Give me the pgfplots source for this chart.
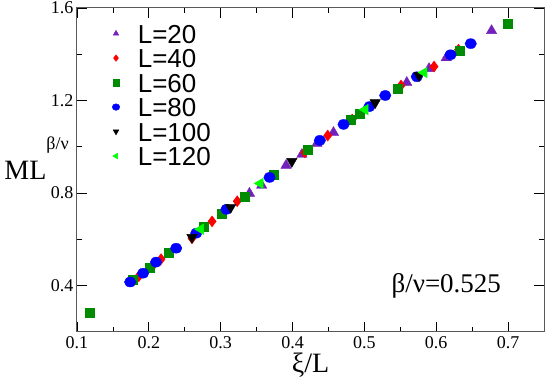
\documentclass[border=0pt]{standalone}
\usepackage{fontspec}
\setmainfont{Liberation Serif}
\newfontfamily\arial{Liberation Sans}
\usepackage{pgfplots}
\pgfplotsset{compat=1.18}
\definecolor{gindigo}{RGB}{114,33,188}
\definecolor{ggreenfour}{RGB}{0,139,0}
\definecolor{ggreen}{RGB}{0,255,0}
\begin{document}
\begin{tikzpicture}
\begin{axis}[
  scale only axis, width=467pt, height=324pt,
  xmin=0.1, xmax=0.75, ymin=0.2, ymax=1.6,
  xtick={0.1,0.2,0.3,0.4,0.5,0.6,0.7},
  ytick={0.4,0.8,1.2,1.6},
  xticklabel={\fontsize{18}{18}\selectfont\pgfmathprintnumber[fixed,fixed zerofill,precision=1,assume math mode=true]{\tick}},
  yticklabel={\fontsize{18}{18}\selectfont\pgfmathprintnumber[fixed,fixed zerofill,precision=1,assume math mode=true]{\tick}},
  minor x tick num=1, minor y tick num=1,
  tick align=inside, major tick length=10pt, minor tick length=5pt,
  axis line style={line width=1pt, black!65},
  every tick/.style={black, line width=0.8pt},
  xticklabel style={yshift=-1pt},
  xlabel={ξ/L},
  every axis x label/.style={at={(axis description cs:0.5,-0.1265)}, anchor=base, font=\fontsize{28}{28}\selectfont},
  ylabel={ML\raisebox{30pt}{\fontsize{18}{18}\selectfont β/ν}},
  every axis y label/.style={at={(axis description cs:-0.163,0.472)}, anchor=base west, font=\fontsize{28}{28}\selectfont},
  legend style={at={(axis description cs:0.075,0.951)}, anchor=north west, draw=none, fill=none,
    inner sep=0pt, row sep=5.5pt, column sep=18pt, font=\arial\fontsize{26}{26}\selectfont,
    nodes={inner sep=0pt, text height=19pt, text depth=0pt}},
  legend cell align=left,
  legend image post style={mark size=3.3pt},
]
% L=20
\addplot[only marks, mark=triangle*, mark size=6pt, color=gindigo] coordinates {
 (0.340,0.799) (0.357,0.834) (0.391,0.920) (0.413,0.967) (0.434,1.015)
 (0.457,1.062) (0.559,1.278) (0.590,1.338) (0.614,1.385) (0.677,1.502)
};
\addlegendentry{L=20}
% L=40
\addplot[only marks, mark=diamond*, mark size=5.5pt, color=red] coordinates {
 (0.186,0.441) (0.205,0.484) (0.217,0.515) (0.260,0.605) (0.288,0.678)
 (0.323,0.765) (0.417,0.976) (0.449,1.049) (0.483,1.118) (0.551,1.265)
 (0.597,1.347) (0.631,1.420)
};
\addlegendentry{L=40}
% L=60
\addplot[only marks, mark=square*, mark size=4.5pt, color=ggreenfour] coordinates {
 (0.118,0.282) (0.177,0.428) (0.201,0.476) (0.228,0.541) (0.277,0.653)
 (0.301,0.713) (0.334,0.786) (0.374,0.881) (0.421,0.989) (0.481,1.118)
 (0.493,1.144) (0.546,1.252) (0.632,1.416) (0.700,1.532)
};
\addlegendentry{L=60}
% L=80
\addplot[only marks, mark=*, mark size=5pt, color=blue, mark options={xscale=1.15}] coordinates {
 (0.174,0.416) (0.192,0.454) (0.210,0.502) (0.238,0.562) (0.266,0.627)
 (0.308,0.730) (0.368,0.868) (0.438,1.028) (0.471,1.097) (0.507,1.174)
 (0.529,1.222) (0.573,1.303) (0.620,1.398) (0.648,1.446)
};
\addlegendentry{L=80}
% L=100
\addplot[only marks, mark=triangle*, mark size=6pt, color=black, mark options={rotate=180}] coordinates {
 (0.260,0.609) (0.314,0.739) (0.399,0.937) (0.515,1.191) (0.576,1.308)
};
\addlegendentry{L=100}
% L=120
\addplot[only marks, mark=triangle*, mark size=6pt, color=ggreen, mark options={rotate=90}] coordinates {
 (0.272,0.644) (0.355,0.842) (0.501,1.161) (0.583,1.321)
};
\addlegendentry{L=120}
\node[anchor=base west, font=\fontsize{27}{27}\selectfont] at (rel axis cs:0.666,0.123) {β/ν=0.525};
\coordinate (SW) at (rel axis cs:0,0);
\coordinate (NE) at (rel axis cs:1,1);
\end{axis}
\pgfresetboundingbox
\useasboundingbox ([shift={(-77pt,-50pt)}]SW) rectangle ([shift={(1pt,8pt)}]NE);
\end{tikzpicture}
\end{document}
